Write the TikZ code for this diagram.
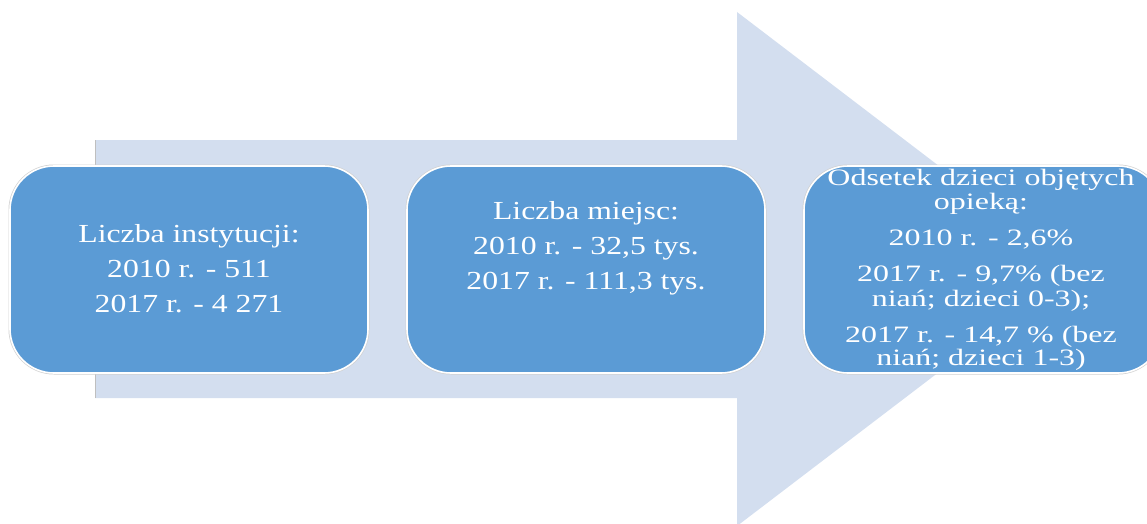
\documentclass[tikz,border=0pt]{standalone}
\usepackage{fontspec}
\setmainfont[FakeStretch=1.22]{Liberation Serif}
\newfontfamily\widefont[FakeStretch=1.36]{Liberation Serif}
\definecolor{arrowfill}{RGB}{211,222,239}
\definecolor{boxfill}{RGB}{91,155,213}
\begin{document}
\begin{tikzpicture}[x=1pt,y=-1pt,
  stagebox/.style={rectangle, rounded corners=44pt, fill=boxfill, draw=white, line width=1.6pt,
    preaction={draw=black!18, line width=3pt},
    minimum width=358pt, minimum height=207pt, inner sep=0pt},
  txt/.style={anchor=base, text=white, font=\fontsize{26pt}{30pt}\selectfont, inner sep=0pt},
  txtw/.style={anchor=base, text=white, font=\widefont\fontsize{23.5pt}{28pt}\selectfont, inner sep=0pt}]
\useasboundingbox (0,0) rectangle (1147,524);
\clip (0,0) rectangle (1147,524);
% big arrow
\fill[arrowfill] (95,140) -- (737,140) -- (737,12) -- (1074,269) -- (737,526) -- (737,398) -- (95,398) -- cycle;
\draw[black!25, line width=0.8pt] (95,140) -- (95,398);
% boxes
\node[stagebox] (box1) at (189,269.5) {};
\node[stagebox] (box2) at (586,269.5) {};
\node[stagebox] (box3) at (983,269.5) {};
% box 1 text
\node[txt] (t1a) at (189,242) {Liczba instytucji:};
\node[txt] (t1b) at (189,277) {2010 r. - 511};
\node[txt] (t1c) at (189,312) {2017 r. - 4 271};
% box 2 text
\node[txt] (t2a) at (586,219) {Liczba miejsc:};
\node[txt] (t2b) at (586,254) {2010 r. - 32,5 tys.};
\node[txt] (t2c) at (586,289) {2017 r. - 111,3 tys.};
% box 3 text
\node[txtw] (t3a) at (981,185) {Odsetek dzieci objętych};
\node[txtw] (t3b) at (981,209) {opieką:};
\node[txtw] (t3c) at (981,245) {2010 r. - 2,6\%};
\node[txtw] (t3d) at (981,281) {2017 r. - 9,7\% (bez};
\node[txtw] (t3e) at (981,306) {niań; dzieci 0-3);};
\node[txtw] (t3f) at (981,342) {2017 r. - 14,7 \% (bez};
\node[txtw] (t3g) at (981,365) {niań; dzieci 1-3)};
\end{tikzpicture}
\end{document}
